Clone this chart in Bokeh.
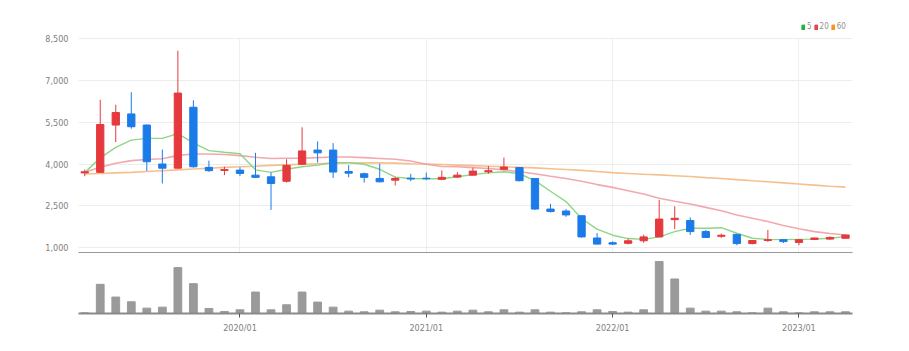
from bokeh.plotting import figure
from bokeh.models import (ColumnDataSource, Range1d, FixedTicker, Legend, LegendItem,
                          NumeralTickFormatter)
from bokeh.layouts import column
from bokeh.embed import file_html
from bokeh.resources import INLINE

months = ["2019/03", "2019/04", "2019/05", "2019/06", "2019/07", "2019/08", "2019/09", "2019/10", "2019/11", "2019/12",
          "2020/01", "2020/02", "2020/03", "2020/04", "2020/05", "2020/06", "2020/07", "2020/08", "2020/09", "2020/10", "2020/11", "2020/12",
          "2021/01", "2021/02", "2021/03", "2021/04", "2021/05", "2021/06", "2021/07", "2021/08", "2021/09", "2021/10", "2021/11", "2021/12",
          "2022/01", "2022/02", "2022/03", "2022/04", "2022/05", "2022/06", "2022/07", "2022/08", "2022/09", "2022/10", "2022/11", "2022/12",
          "2023/01", "2023/02", "2023/03", "2023/04"]

opens = [3680, 3700, 5400, 5800, 5400, 4000, 3850, 6040, 3880, 3770,
         3780, 3600, 3540, 3380, 3990, 4500, 4500, 3730, 3650, 3480, 3420, 3490,
         3490, 3450, 3530, 3600, 3720, 3810, 3870, 3480, 2380, 2310, 2140, 1340,
         1170, 1150, 1240, 1380, 2000, 1970, 1570, 1400, 1470, 1140, 1250, 1280,
         1180, 1290, 1300, 1330]
highs = [3800, 6310, 6130, 6580, 5420, 4520, 8070, 6290, 4120, 3900,
         3880, 4400, 3700, 4170, 5320, 4810, 4750, 3960, 3690, 4010, 3540, 3650,
         3690, 3770, 3710, 3870, 3930, 4230, 3890, 3490, 2570, 2380, 2150, 1520,
         1220, 1320, 1460, 2710, 2480, 2080, 1630, 1500, 1480, 1260, 1630, 1290,
         1290, 1360, 1400, 1460]
lows = [3560, 3680, 4790, 5270, 3750, 3300, 3830, 3870, 3720, 3600,
        3570, 3500, 2350, 3330, 3960, 4050, 3500, 3520, 3330, 3340, 3230, 3380,
        3420, 3420, 3500, 3590, 3650, 3780, 3380, 2350, 2260, 2100, 1350, 1110,
        1090, 1110, 1170, 1370, 1660, 1450, 1350, 1350, 1080, 1110, 1200, 1160,
        1080, 1280, 1280, 1320]
closes = [3720, 5420, 5850, 5340, 4080, 3850, 6550, 3900, 3760, 3800,
          3660, 3520, 3300, 3950, 4470, 4400, 3710, 3670, 3520, 3360, 3480, 3460,
          3470, 3520, 3600, 3745, 3760, 3890, 3400, 2380, 2290, 2170, 1380, 1120,
          1120, 1240, 1380, 2020, 2050, 1570, 1360, 1440, 1140, 1250, 1280, 1210,
          1280, 1340, 1360, 1450]
volume = [2, 87, 49, 35, 16, 19, 137, 89, 15, 6,
          11, 64, 11, 26, 64, 34, 19, 7, 5, 10, 5, 6,
          7, 4, 7, 10, 5, 11, 4, 11, 4, 2, 5, 11,
          6, 4, 11, 155, 103, 16, 7, 7, 5, 2, 16, 5,
          2, 5, 5, 5]
ma5 = [3690, 4220, 4600, 4860, 4920, 4920, 5090, 4760, 4480, 4420,
       4370, 3790, 3700, 3810, 3900, 3960, 4050, 4050, 3990, 3810, 3530, 3480,
       3470, 3470, 3540, 3620, 3680, 3720, 3650, 3400, 3020, 2650, 2040, 1660,
       1440, 1320, 1290, 1380, 1570, 1690, 1690, 1710, 1510, 1330, 1290, 1280,
       1290, 1300, 1330, 1390]
ma20 = [3700, 3880, 4030, 4120, 4160, 4190, 4310, 4360, 4360, 4340,
        4300, 4240, 4200, 4205, 4205, 4230, 4250, 4250, 4230, 4200, 4170, 4110,
        3990, 3910, 3900, 3870, 3840, 3790, 3720, 3650, 3560, 3480, 3380, 3260,
        3160, 3040, 2920, 2770, 2660, 2560, 2440, 2320, 2170, 2050, 1930, 1790,
        1670, 1570, 1500, 1450]
ma60 = [3640, 3660, 3680, 3700, 3730, 3760, 3790, 3820, 3850, 3880,
        3900, 3920, 3950, 3970, 3990, 4010, 4030, 4040, 4040, 4040, 4030, 4010,
        4000, 3980, 3960, 3940, 3920, 3900, 3880, 3860, 3830, 3800, 3770, 3730,
        3690, 3660, 3630, 3610, 3580, 3550, 3510, 3480, 3440, 3400, 3360, 3320,
        3280, 3240, 3200, 3170]
y_ticks = [1000, 2500, 4000, 5500, 7000, 8500]
legend_labels = ["5", "20", "60"]

UP = "#e5393d"
DOWN = "#1b7be8"
FONT = "DejaVu Sans Condensed, Liberation Sans"
NAN = float("nan")

idx = list(range(len(months)))
src = ColumnDataSource(dict(
    x=idx, open=opens, high=highs, low=lows, close=closes, vol=volume,
    top=[max(o, c) for o, c in zip(opens, closes)],
    bottom=[min(o, c) for o, c in zip(opens, closes)],
    color=[UP if c >= o else DOWN for o, c in zip(opens, closes)],
    ma5=ma5, ma20=ma20, ma60=ma60,
))
year_ticks = [i for i, m in enumerate(months) if m.endswith("/01")]

xr = Range1d(-0.4, len(months) - 1 + 0.45)

p1 = figure(width=909, height=253, x_range=xr, y_range=Range1d(783, 9877),
            output_backend="svg", toolbar_location=None,
            min_border_left=78, min_border_right=57, min_border_top=0, min_border_bottom=0)
p1.outline_line_color = None
p1.background_fill_color = "white"
p1.border_fill_color = "white"

p1.yaxis.ticker = FixedTicker(ticks=y_ticks)
p1.yaxis.formatter = NumeralTickFormatter(format="0,0")
p1.yaxis.axis_line_color = None
p1.yaxis.major_tick_line_color = None
p1.yaxis.minor_tick_line_color = None
p1.yaxis.major_label_text_font_size = "9px"
p1.yaxis.major_label_text_color = "#808080"
p1.yaxis.major_label_text_font = FONT
p1.yaxis.major_label_standoff = 4

p1.xaxis.ticker = FixedTicker(ticks=[])
p1.xaxis.axis_line_color = "#333333"
p1.xaxis.axis_line_width = 2
p1.xaxis.major_tick_line_color = None
p1.xaxis.minor_tick_line_color = None
p1.xaxis.major_label_text_font_size = "0px"
p1.xaxis.major_label_standoff = 0

p1.ygrid.grid_line_color = "#ececec"
xg = p1.xgrid[0]
xg.ticker = FixedTicker(ticks=year_ticks)
xg.grid_line_color = "#efefef"
if "cross_bounds" in xg.properties():
    xg.cross_bounds = (783, y_ticks[-1])

p1.line("x", "ma60", source=src, line_color="#f5b57a", line_width=1.6, line_alpha=0.85)
p1.line("x", "ma20", source=src, line_color="#f09aa0", line_width=1.6, line_alpha=0.85)
p1.line("x", "ma5", source=src, line_color="#86d57e", line_width=1.4, line_alpha=0.95)

p1.segment(x0="x", y0="high", x1="x", y1="low", source=src, line_color="color", line_width=1)
p1.vbar(x="x", width=0.47, top="top", bottom="bottom", source=src,
        fill_color="color", line_color="color", line_width=1)

leg_colors = ["#22b43f", "#e8424a", "#f5951f"]
items = []
for lab, col in zip(legend_labels, leg_colors):
    r = p1.quad(left=[NAN], right=[NAN], top=[NAN], bottom=[NAN],
                fill_color=col, line_color=col)
    items.append(LegendItem(label=lab, renderers=[r]))
legend = Legend(items=items, orientation="horizontal", location=(723, 222),
                padding=0, margin=0, spacing=2, label_standoff=2,
                glyph_width=4, glyph_height=6, label_height=8, label_width=0,
                label_text_font_size="8px", label_text_color="#909090", label_text_font=FONT,
                border_line_color=None, background_fill_alpha=0)
p1.add_layout(legend, "center")

p2 = figure(width=909, height=98, x_range=xr, y_range=Range1d(0, 179),
            output_backend="svg", toolbar_location=None,
            min_border_left=78, min_border_right=57, min_border_top=0, min_border_bottom=38)
p2.outline_line_color = None
p2.yaxis.visible = False
p2.grid.grid_line_color = None
p2.vbar(x="x", width=0.5, top="vol", bottom=0, source=src, fill_color="#9a9a9a", line_color="#9a9a9a")
p2.xaxis.ticker = FixedTicker(ticks=year_ticks)
p2.xaxis.major_label_overrides = {i: months[i] for i in year_ticks}
p2.xaxis.axis_line_color = "#8a8a8a"
p2.xaxis.axis_line_width = 2
p2.xaxis.major_tick_line_color = "#555555"
p2.xaxis.major_tick_out = 4
p2.xaxis.major_tick_in = 0
p2.xaxis.minor_tick_line_color = None
p2.xaxis.major_label_text_font_size = "9px"
p2.xaxis.major_label_text_color = "#808080"
p2.xaxis.major_label_text_font = FONT
p2.xaxis.major_label_standoff = 5

layout = column(p1, p2, spacing=0)
open("out.html", "w").write(file_html(layout, INLINE))
